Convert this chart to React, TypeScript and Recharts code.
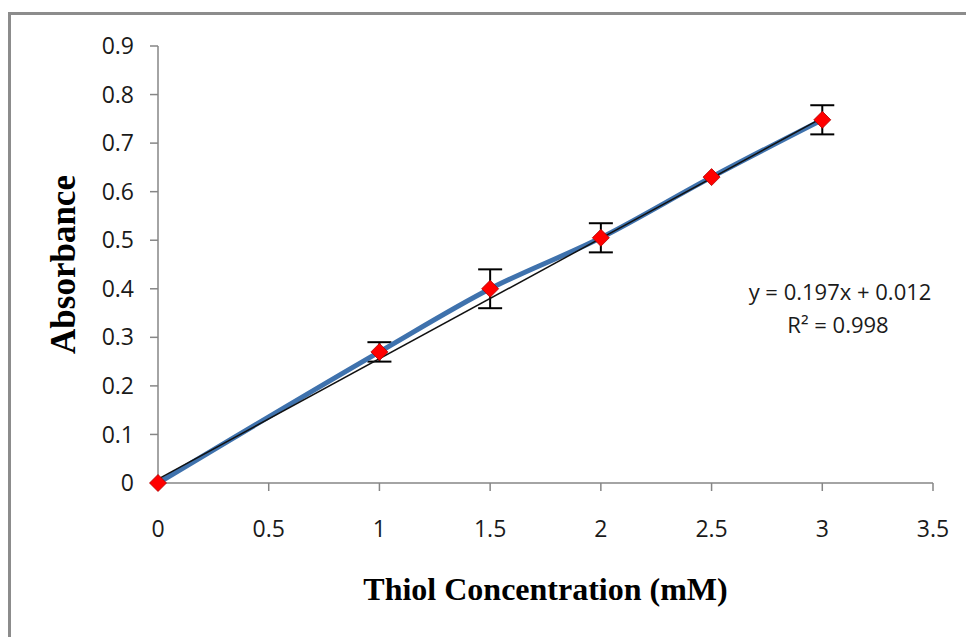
import React from 'react'
import { ComposedChart, Line, XAxis, YAxis, ErrorBar, Label } from 'recharts'

// measured points (thiol conc. in mM vs absorbance)
const concentrations = [0, 1, 1.5, 2, 2.5, 3]
const absorbance = [0, 0.27, 0.4, 0.505, 0.63, 0.748]
const errors = [0, 0.02, 0.04, 0.03, 0, 0.03]

// linear trendline as drawn on the chart (end points)
const trendX = [0, 3]
const trendY = [0.008, 0.752]

const xTicks = [0, 0.5, 1, 1.5, 2, 2.5, 3, 3.5]
const yTicks = [0, 0.1, 0.2, 0.3, 0.4, 0.5, 0.6, 0.7, 0.8, 0.9]

const equation = 'y = 0.197x + 0.012'
const rSquared = 'R² = 0.998'

const points = concentrations.map((x, i) => ({ x, y: absorbance[i], err: errors[i] }))
const trend = trendX.map((x, i) => ({ x, y: trendY[i] }))

const AXIS = '#868686'
const tickStyle = { fontFamily: 'Open Sans', fontSize: 23, fill: '#1a1a1a' }

const Diamond = (props: any) => {
  const { cx, cy } = props
  if (cx == null || cy == null) return null
  const r = 8.5
  return (
    <polygon
      points={`${cx},${cy - r} ${cx + r},${cy} ${cx},${cy + r} ${cx - r},${cy}`}
      fill="#ff0000"
      stroke="#b00000"
      strokeWidth={0.8}
    />
  )
}

export default function App() {
  return (
    <div style={{ position: 'fixed', left: 0, top: 0, width: 966, height: 637, overflow: 'hidden', background: '#fff' }}>
      <div style={{ position: 'absolute', left: 8, top: 12, width: 1000, height: 700, border: '3.5px solid #8c8c8c' }} />
      <div style={{ position: 'absolute', left: 0, top: 0 }}>
        <ComposedChart width={966} height={637} margin={{ top: 46, right: 33, bottom: 34, left: 58 }}>
          <XAxis
            type="number"
            dataKey="x"
            domain={[0, 3.5]}
            ticks={xTicks}
            height={120}
            stroke={AXIS}
            strokeWidth={1.5}
            tickSize={8}
            tickMargin={30}
            tick={tickStyle}
          >
            <Label
              value="Thiol Concentration (mM)"
              position="insideBottom"
              offset={3}
              style={{ fontFamily: 'Liberation Serif', fontWeight: 'bold', fontSize: 32, fill: '#000' }}
            />
          </XAxis>
          <YAxis
            type="number"
            domain={[0, 0.9]}
            ticks={yTicks}
            width={100}
            stroke={AXIS}
            strokeWidth={1.5}
            tickSize={8}
            tickMargin={16}
            tick={tickStyle}
          >
            <Label
              value="Absorbance"
              position="center"
              angle={-90}
              dx={-45}
              style={{ fontFamily: 'Liberation Serif', fontWeight: 'bold', fontSize: 35, fill: '#000' }}
            />
          </YAxis>
          <Line
            data={points}
            dataKey="y"
            type="monotone"
            stroke="#3f72ad"
            strokeWidth={5}
            dot={<Diamond />}
            activeDot={false}
            isAnimationActive={false}
          >
            <ErrorBar dataKey="err" direction="y" width={12} stroke="#000" strokeWidth={2} />
          </Line>
          <Line
            data={trend}
            dataKey="y"
            type="linear"
            stroke="#111"
            strokeWidth={1.5}
            dot={false}
            activeDot={false}
            isAnimationActive={false}
          />
        </ComposedChart>
      </div>
      <svg width={966} height={637} style={{ position: 'absolute', left: 0, top: 0, pointerEvents: 'none' }}>
        <text x={840} y={300} textAnchor="middle" fontFamily="Open Sans" fontSize={22} fill="#1a1a1a">{equation}</text>
        <text x={838} y={333} textAnchor="middle" fontFamily="Open Sans" fontSize={22} fill="#1a1a1a">{rSquared}</text>
      </svg>
    </div>
  )
}
